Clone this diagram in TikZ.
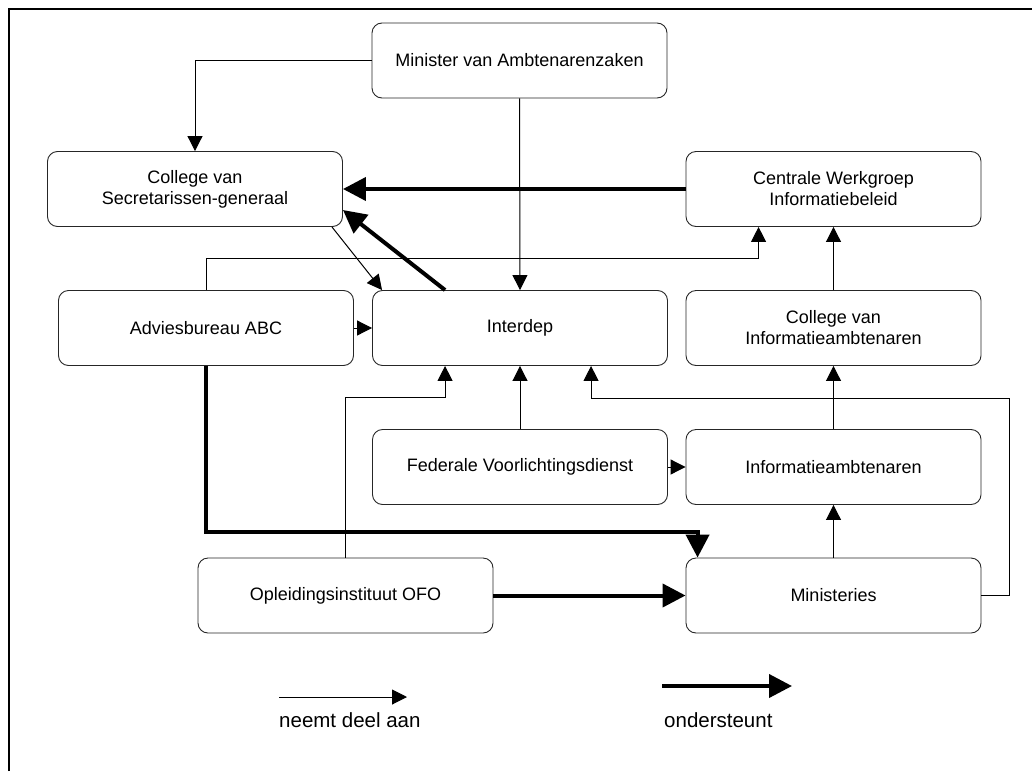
\documentclass[tikz,border=0pt]{standalone}
\usepackage{fontspec}
\setmainfont{Liberation Sans}
\usetikzlibrary{arrows.meta}
\tikzset{
  box/.style={draw=black!85, line width=0.9pt, rounded corners=10pt, minimum width=295pt, minimum height=75pt, inner sep=0pt, align=center, font=\fontsize{18}{21}\selectfont},
  thinarr/.style={draw=black, line width=1pt, -{Triangle[length=15pt,width=15pt]}},
  thickarr/.style={draw=black, line width=4pt, -{Triangle[length=23pt,width=23pt]}},
  legtext/.style={anchor=base west, inner sep=0pt, font=\fontsize{20.5}{24}\selectfont}
}
\begin{document}
\begin{tikzpicture}[x=1pt,y=-1pt]
\useasboundingbox (0,0) rectangle (1032,771);
% frame
\draw[line width=2pt] (9,771) -- (9,9) -- (1032,9);
% boxes
\node[box] (min) at (519.5,60.5) {Minister van Ambtenarenzaken};
\node[box] (csg) at (195,189) {College van\\Secretarissen-generaal};
\node[box] (cwi) at (833.5,189) {Centrale Werkgroep\\Informatiebeleid};
\node[box] (adv) at (206,328) {Adviesbureau ABC};
\node[box] (idp) at (520,328) {Interdep};
\node[box] (cia) at (833.5,328) {College van\\Informatieambtenaren};
\node[box] (fvd) at (520,467) {Federale Voorlichtingsdienst};
\node[box] (iam) at (833.5,467) {Informatieambtenaren};
\node[box] (ofo) at (345.5,595.5) {Opleidingsinstituut OFO};
\node[box] (mst) at (833.5,595.5) {Ministeries};
\coordinate (rb) at (1009,398);
% thin connectors
\draw[thinarr] (min.west) -| (csg.north);
\draw[thinarr] (min.south) -- (idp.north);
\draw[thinarr] ([xshift=-11pt]csg.south east) -- ([xshift=10pt]idp.north west);
\draw[thinarr] (adv.north) -- ++(0,-32) -| ([xshift=73pt]cwi.south west);
\draw[thinarr] (adv.east) -- (idp.west);
\draw[thinarr] (ofo.north) -- ++(0,-160) -| ([xshift=73pt]idp.south west);
\draw[thinarr] (fvd.north) -- (idp.south);
\draw[thinarr] (mst.east) -| (rb) -| ([xshift=219pt]idp.south west);
\draw[thinarr] (fvd.east) -- (iam.west);
\draw[thinarr] (mst.north) -- (iam.south);
\draw[thinarr] (iam.north) -- (cia.south);
\draw[thinarr] (cia.north) -- (cwi.south);
% thick connectors
\draw[thickarr] (cwi.west) -- (csg.east);
\draw[thickarr] ([xshift=73pt]idp.north west) -- ([yshift=-21pt]csg.east);
\draw[thickarr] (adv.south) -- ++(0,166) -| ([xshift=12pt]mst.north west);
\draw[thickarr] (ofo.east) -- (mst.west);
% legend
\coordinate (l1a) at (279,697);
\coordinate (l1b) at (407,697);
\coordinate (l2a) at (662,686);
\coordinate (l2b) at (792,686);
\draw[thinarr] (l1a) -- (l1b);
\draw[thickarr] (l2a) -- (l2b);
\node[legtext] (t1) at (279,727) {neemt deel aan};
\node[legtext] (t2) at (664,727) {ondersteunt};
\end{tikzpicture}
\end{document}
